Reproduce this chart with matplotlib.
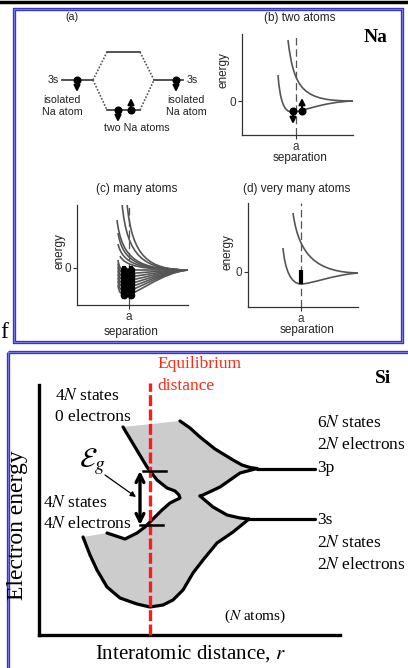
import matplotlib
matplotlib.use('Agg')
import matplotlib.pyplot as plt
from matplotlib.path import Path
from matplotlib.patches import PathPatch, Polygon, Rectangle

W, H = 408, 668
SANS = 'Liberation Sans'
SERIF = 'Liberation Serif'
plt.rcParams['mathtext.fontset'] = 'stix'

# ---------------- Na (a): two-atom level diagram ----------------
# x = horizontal position, E = energy relative to the isolated 3s level
a_iso_left = [62, 93]
a_iso_right = [154, 183]
a_mo_x = [107, 140]
a_E_anti = 28
a_E_bond = -30
a_el_x = [77, 176, 118, 131]
a_el_E = [0, 0, -30, -30]
a_el_spin = [-1, -1, -1, 1]

# ---------------- Na (b): two atoms (cubic Bezier control points, r / E) ----------------
b_a = 54
b_upper = [(46, 61), (52, 10), (62, 0), (111, 0)]
b_lower = [(36, 26), (38, 0), (42, -11), (50, -11), (60, -11), (80, -1), (111, 0)]
b_el_x = [51, 60]
b_el_E = [-10, -10]
b_el_spin = [-1, 1]

# ---------------- Na (c): many atoms ----------------
c_a = 52
c_end = (111, -2)
c_upper_start = [(45, 65), (50, 65), (40, 48), (41, 35), (41, 24), (43, 12)]
c_lower_min = [-2, -5.5, -9, -12.5, -16, -19.5, -23, -27]
c_el_x = [47, 54]

# ---------------- Na (d): very many atoms ----------------
d_a = 53
d_upper = [(45, 59), (51, 15), (70, 0), (110, -1)]
d_lower = [(35, 24), (37, 2), (43, -12), (53, -12), (63, -12), (85, -3), (110, -1)]
d_band = [-12, 2]

# ---------------- Si: bands vs interatomic distance (r, E) ----------------
si_eq_r = 111
si_gap_edge = [(84, 208), (96, 188), (108, 168), (118, 155), (128, 147), (136, 144),
               (140, 140), (141, 137), (139, 136), (131, 132), (123, 125), (113, 115),
               (106, 108), (98, 102), (86, 96), (68, 102)]
si_top_right = [(141, 214), (151, 207), (161, 198), (176, 186), (194, 175), (203, 170),
                (211, 167.5), (218, 166.5)]
si_notch_upper = [(218, 166.5), (201, 162), (181, 148), (164, 140), (161, 139)]
si_notch_lower = [(161, 139), (174, 128), (188, 120), (201, 117), (210, 116)]
si_low_outer = [(210, 116), (194, 103), (178, 92), (164, 75), (154, 62), (144, 45),
                (134, 35), (124, 30), (111, 28), (98, 31), (81, 37), (68, 48), (58, 65),
                (51, 80), (44, 98)]
si_3p = [(218, 166.5), (276, 166.5)]
si_3s = [(210, 116), (276, 116)]
si_gap_E = [110, 164]


def px_axes(x0, y0, x1, y1):
    return fig.add_axes([x0 / W, 1 - y1 / H, (x1 - x0) / W, (y1 - y0) / H])


def bezier(ax, pts, **kw):
    codes = [Path.MOVETO] + [Path.CURVE4] * (len(pts) - 1)
    ax.add_patch(PathPatch(Path(pts, codes), fill=False, **kw))


def electron(ax, x, y, spin, length=12):
    ax.plot(x, y, 'o', ms=4.8, color='k', zorder=5, clip_on=False)
    ax.annotate('', xy=(x, y + spin * length), xytext=(x, y),
                arrowprops=dict(arrowstyle='-|>', color='k', lw=1.5,
                                mutation_scale=9, shrinkA=0, shrinkB=0), zorder=5)


def na_axes(x0, y0, x1, y1, zero, a):
    ax = px_axes(x0, y0, x1, y1)
    ax.set_xlim(0, x1 - x0)
    ax.set_ylim(zero - y1, zero - y0)
    for s in ['top', 'right']:
        ax.spines[s].set_visible(False)
    for s in ['left', 'bottom']:
        ax.spines[s].set_color('#333333')
        ax.spines[s].set_linewidth(0.9)
    ax.set_xticks([a], ['a'])
    ax.set_yticks([0], ['0'])
    ax.tick_params(length=3, width=0.8, pad=1, labelsize=8.5, colors='#333333')
    for lab in ax.get_xticklabels() + ax.get_yticklabels():
        lab.set_fontfamily(SANS)
    ax.patch.set_alpha(0)
    ax.axvline(a, color='#555555', lw=0.9, ls=(0, (6, 3)), zorder=1)
    return ax


fig = plt.figure(figsize=(W / 100, H / 100), dpi=100)
bg = fig.add_axes([0, 0, 1, 1])
bg.set_xlim(0, W)
bg.set_ylim(H, 0)
bg.axis('off')

# frames
bg.plot([0, W], [1.5, 1.5], color='k', lw=2.5)
for x0, y0, x1, y1 in [(14, 9, 402, 342), (8, 352, 430, 700)]:
    bg.add_patch(Rectangle((x0, y0), x1 - x0, y1 - y0, fill=False, ec='#3535d5', lw=2.4))
    bg.add_patch(Rectangle((x0, y0), x1 - x0, y1 - y0, fill=False, ec='#a8a8f0', lw=0.4))
bg.text(0.5, 338, 'f', fontsize=17, family=SERIF, ha='left', va='baseline')
bg.text(376, 37, 'Na', fontsize=14, family=SERIF, weight='bold', ha='center', va='center')

# titles / labels of the Na panels
for (tx, ty, t) in [(300, 18, '(b) two atoms'), (137, 189, '(c) many atoms'),
                    (297, 189, '(d) very many atoms')]:
    bg.text(tx, ty, t, fontsize=8.5, family=SANS, ha='center', va='center', color='#222222')
for (tx, ty) in [(224, 70), (60, 251), (228, 252)]:
    bg.text(tx, ty, 'energy', fontsize=8.5, family=SANS, rotation=90,
            ha='center', va='center', color='#222222')
for (tx, ty) in [(300, 158), (131, 332), (307, 330)]:
    bg.text(tx, ty, 'separation', fontsize=8.5, family=SANS, ha='center', va='center',
            color='#222222')

# ---- (a)
axa = px_axes(30, 10, 210, 140)
axa.set_xlim(30, 210)
axa.set_ylim(80 - 140, 80 - 10)
axa.axis('off')
lvl = dict(color='#444444', lw=1.3)
dot = dict(color='#555555', lw=1.2, ls=(0, (1, 1)))
axa.plot(a_iso_left, [0, 0], **lvl)
axa.plot(a_iso_right, [0, 0], **lvl)
axa.plot(a_mo_x, [a_E_anti] * 2, **lvl)
axa.plot(a_mo_x, [a_E_bond] * 2, **lvl)
for E in [a_E_anti, a_E_bond]:
    axa.plot([a_iso_left[1], a_mo_x[0]], [0, E], **dot)
    axa.plot([a_mo_x[1], a_iso_right[0]], [E, 0], **dot)
for x, E, s in zip(a_el_x, a_el_E, a_el_spin):
    electron(axa, x, E, s, 12)
axa.text(72, 63, '(a)', fontsize=7.7, family=SANS, ha='center', va='center', color='#222222')
axa.text(59, 0, '3s', fontsize=7.7, family=SANS, ha='right', va='center', color='#222222')
axa.text(187, 0, '3s', fontsize=7.7, family=SANS, ha='left', va='center', color='#222222')
for xc in [62, 186]:
    axa.text(xc, -26, 'isolated\nNa atom', fontsize=7.7, family=SANS, ha='center',
             va='center', linespacing=1.15, color='#222222')
axa.text(137, -48, 'two Na atoms', fontsize=7.7, family=SANS, ha='center', va='center',
         color='#222222')

curve = dict(color='#555555', lw=1.2)

# ---- (b)
axb = na_axes(242, 34, 353, 135, 101, b_a)
bezier(axb, b_upper, **curve)
bezier(axb, b_lower, **curve)
for x, E, s in zip(b_el_x, b_el_E, b_el_spin):
    electron(axb, x, E, s, 13)

# ---- (c)
axc = na_axes(77, 205, 188, 305, 268, c_a)
for r0, E0 in c_upper_start:
    bezier(axc, [(r0, E0), (r0 + 5, E0 * 0.15), (r0 + 22, -1.5), c_end], **curve)
for m in c_lower_min:
    bezier(axc, [(41, m + 10), (42, m + 2), (44, m), (50, m), (58, m),
                 (85, -2 + (m + 2) * 0.1), c_end], **curve)
for x in c_el_x:
    axc.plot([x] * len(c_lower_min), c_lower_min, 'o', ms=4.5, color='k', zorder=5)
    axc.plot([x, x], [c_lower_min[0] + 2, c_lower_min[-1] - 2], color='k', lw=3, zorder=5)

# ---- (d)
axd = na_axes(248, 203, 358, 307, 272, d_a)
bezier(axd, d_upper, **curve)
bezier(axd, d_lower, **curve)
axd.plot([d_a, d_a], d_band, color='k', lw=3, zorder=5, solid_capstyle='butt')

# ---- Si
ax = px_axes(39, 385, 340, 635)
ax.set_xlim(0, 301)
ax.set_ylim(0, 250)
ax.patch.set_alpha(0)
ax.set_xticks([])
ax.set_yticks([])
for s in ['top', 'right']:
    ax.spines[s].set_visible(False)
for s in ['left', 'bottom']:
    ax.spines[s].set_linewidth(2.4)

outline = ([si_gap_edge[0]] + si_top_right + si_notch_upper[1:] + si_notch_lower[1:]
           + si_low_outer[1:] + si_gap_edge[::-1])
ax.add_patch(Polygon(outline, closed=True, fc='#cccccc', ec='none', zorder=1))
blk = dict(color='k', lw=2.3, solid_joinstyle='round', solid_capstyle='round', zorder=2,
           clip_on=False)
for seg in [si_gap_edge, si_top_right, si_notch_upper, si_notch_lower, si_low_outer,
            si_3p, si_3s]:
    ax.plot([p[0] for p in seg], [p[1] for p in seg], **blk)

ax.plot([si_eq_r, si_eq_r], [0, 252], color='#ff1a1a', lw=2.4, dashes=(3.3, 1.0),
        zorder=3, clip_on=False)
ax.annotate('', xy=(101, si_gap_E[1]), xytext=(101, si_gap_E[0]),
            arrowprops=dict(arrowstyle='<->', lw=2.4, color='k', mutation_scale=14,
                            shrinkA=0, shrinkB=0), zorder=4)
ax.plot([104, 127], [si_gap_E[1]] * 2, color='k', lw=1.8, zorder=5)
ax.plot([101, 124], [si_gap_E[0]] * 2, color='k', lw=1.8, zorder=5)
ax.annotate('', xy=(97, 138), xytext=(66, 160),
            arrowprops=dict(arrowstyle='-|>', lw=0.9, color='k', mutation_scale=8,
                            shrinkA=0, shrinkB=0), zorder=4)

red = '#ff2a10'
st = dict(fontsize=12.5, family=SERIF, va='center', ha='left')
ax.text(118, 271, 'Equilibrium', color=red, clip_on=False, **st)
ax.text(118, 249, 'distance', color=red, clip_on=False, **st)
ax.text(344, 257, 'Si', fontsize=14, family=SERIF, weight='bold', ha='center', va='center')
ax.text(16, 239, '4$N$ states', **st)
ax.text(16, 218, '0 electrons', **st)
ax.text(4, 132, '4$N$ states', **st)
ax.text(4, 111, '4$N$ electrons', **st)
ax.text(278, 212, '6$N$ states', **st)
ax.text(278, 190, '2$N$ electrons', **st)
ax.text(278, 167, '3p', **st)
ax.text(278, 115, '3s', **st)
ax.text(278, 92, '2$N$ states', **st)
ax.text(278, 70, '2$N$ electrons', **st)
ax.text(53, 173, r'$\mathcal{E}_g$', fontsize=20, ha='center', va='center')
ax.text(216, 19, '($N$ atoms)', fontsize=11, family=SERIF, ha='center', va='center')
ax.text(-21, 110, 'Electron energy', fontsize=17, family=SERIF, rotation=90,
        ha='center', va='center')
ax.text(151, -19, 'Interatomic distance, $r$', fontsize=15, family=SERIF,
        ha='center', va='center')

fig.savefig('out.png', dpi=100)
